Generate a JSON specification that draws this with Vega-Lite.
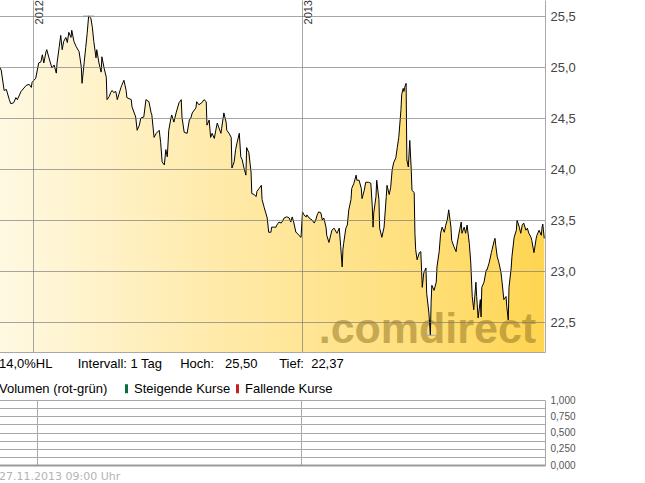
{
  "$schema": "https://vega.github.io/schema/vega-lite/v6.json",
  "padding": {"left": -3, "top": 0, "right": 0, "bottom": 0},
  "background": "white",
  "spacing": 48,
  "bounds": "flush",
  "config": {"view": {"stroke": null}, "font": "Liberation Sans"},
  "resolve": {"scale": {"x": "independent", "y": "independent", "color": "independent"}, "legend": {"color": "independent"}},
  "datasets": {
    "kurse": [
      {"date":"2011-11-16","kurs":25.01},{"date":"2011-11-19","kurs":24.97},{"date":"2011-11-23","kurs":24.77},{"date":"2011-11-26","kurs":24.78},
      {"date":"2011-11-30","kurs":24.68},{"date":"2011-12-02","kurs":24.64},{"date":"2011-12-06","kurs":24.65},{"date":"2011-12-09","kurs":24.70},
      {"date":"2011-12-11","kurs":24.68},{"date":"2011-12-16","kurs":24.76},{"date":"2011-12-23","kurs":24.82},{"date":"2011-12-27","kurs":24.83},
      {"date":"2011-12-30","kurs":24.80},{"date":"2011-12-31","kurs":24.85},{"date":"2012-01-05","kurs":24.89},{"date":"2012-01-09","kurs":25.04},
      {"date":"2012-01-12","kurs":25.05},{"date":"2012-01-14","kurs":25.12},{"date":"2012-01-16","kurs":25.04},{"date":"2012-01-19","kurs":25.15},
      {"date":"2012-01-20","kurs":25.17},{"date":"2012-01-23","kurs":25.09},{"date":"2012-01-27","kurs":24.99},{"date":"2012-01-30","kurs":25.02},
      {"date":"2012-02-02","kurs":24.94},{"date":"2012-02-03","kurs":25.04},{"date":"2012-02-06","kurs":25.20},{"date":"2012-02-08","kurs":25.31},
      {"date":"2012-02-10","kurs":25.17},{"date":"2012-02-12","kurs":25.25},{"date":"2012-02-15","kurs":25.29},{"date":"2012-02-17","kurs":25.24},
      {"date":"2012-02-19","kurs":25.34},{"date":"2012-02-22","kurs":25.29},{"date":"2012-02-23","kurs":25.36},{"date":"2012-02-26","kurs":25.25},
      {"date":"2012-02-29","kurs":25.20},{"date":"2012-03-04","kurs":25.15},{"date":"2012-03-07","kurs":25.00},{"date":"2012-03-08","kurs":24.84},
      {"date":"2012-03-11","kurs":25.05},{"date":"2012-03-13","kurs":25.19},{"date":"2012-03-15","kurs":25.33},{"date":"2012-03-17","kurs":25.50},
      {"date":"2012-03-20","kurs":25.48},{"date":"2012-03-22","kurs":25.39},{"date":"2012-03-24","kurs":25.25},{"date":"2012-03-27","kurs":25.09},
      {"date":"2012-03-28","kurs":25.17},{"date":"2012-03-31","kurs":25.04},{"date":"2012-04-03","kurs":24.95},{"date":"2012-04-04","kurs":25.10},
      {"date":"2012-04-07","kurs":24.99},{"date":"2012-04-10","kurs":24.90},{"date":"2012-04-11","kurs":24.68},{"date":"2012-04-14","kurs":24.71},
      {"date":"2012-04-16","kurs":24.75},{"date":"2012-04-18","kurs":24.77},{"date":"2012-04-20","kurs":24.75},{"date":"2012-04-23","kurs":24.76},
      {"date":"2012-04-25","kurs":24.68},{"date":"2012-04-27","kurs":24.73},{"date":"2012-04-30","kurs":24.80},{"date":"2012-05-01","kurs":24.82},
      {"date":"2012-05-04","kurs":24.87},{"date":"2012-05-07","kurs":24.77},{"date":"2012-05-08","kurs":24.70},{"date":"2012-05-14","kurs":24.68},
      {"date":"2012-05-15","kurs":24.61},{"date":"2012-05-20","kurs":24.51},{"date":"2012-05-22","kurs":24.38},{"date":"2012-05-25","kurs":24.43},
      {"date":"2012-05-27","kurs":24.50},{"date":"2012-05-31","kurs":24.51},{"date":"2012-06-03","kurs":24.68},{"date":"2012-06-07","kurs":24.66},
      {"date":"2012-06-10","kurs":24.55},{"date":"2012-06-11","kurs":24.53},{"date":"2012-06-14","kurs":24.31},{"date":"2012-06-17","kurs":24.35},
      {"date":"2012-06-21","kurs":24.38},{"date":"2012-06-23","kurs":24.26},{"date":"2012-06-25","kurs":24.07},{"date":"2012-06-28","kurs":24.04},
      {"date":"2012-06-30","kurs":24.19},{"date":"2012-07-02","kurs":24.12},{"date":"2012-07-04","kurs":24.38},{"date":"2012-07-07","kurs":24.50},
      {"date":"2012-07-08","kurs":24.53},{"date":"2012-07-11","kurs":24.46},{"date":"2012-07-14","kurs":24.55},{"date":"2012-07-18","kurs":24.65},
      {"date":"2012-07-21","kurs":24.68},{"date":"2012-07-22","kurs":24.51},{"date":"2012-07-25","kurs":24.36},{"date":"2012-07-29","kurs":24.35},
      {"date":"2012-08-01","kurs":24.48},{"date":"2012-08-03","kurs":24.50},{"date":"2012-08-05","kurs":24.55},{"date":"2012-08-10","kurs":24.60},
      {"date":"2012-08-11","kurs":24.66},{"date":"2012-08-14","kurs":24.63},{"date":"2012-08-18","kurs":24.65},{"date":"2012-08-21","kurs":24.68},
      {"date":"2012-08-24","kurs":24.66},{"date":"2012-08-25","kurs":24.43},{"date":"2012-08-28","kurs":24.48},{"date":"2012-08-30","kurs":24.31},
      {"date":"2012-09-01","kurs":24.35},{"date":"2012-09-04","kurs":24.30},{"date":"2012-09-06","kurs":24.38},{"date":"2012-09-08","kurs":24.45},
      {"date":"2012-09-10","kurs":24.41},{"date":"2012-09-13","kurs":24.35},{"date":"2012-09-14","kurs":24.40},{"date":"2012-09-17","kurs":24.55},
      {"date":"2012-09-20","kurs":24.46},{"date":"2012-09-21","kurs":24.38},{"date":"2012-09-24","kurs":24.35},{"date":"2012-09-27","kurs":24.31},
      {"date":"2012-09-28","kurs":24.01},{"date":"2012-10-01","kurs":24.07},{"date":"2012-10-03","kurs":24.19},{"date":"2012-10-05","kurs":24.26},
      {"date":"2012-10-08","kurs":24.35},{"date":"2012-10-10","kurs":24.12},{"date":"2012-10-12","kurs":24.09},{"date":"2012-10-14","kurs":24.02},
      {"date":"2012-10-17","kurs":23.94},{"date":"2012-10-18","kurs":24.21},{"date":"2012-10-21","kurs":24.16},{"date":"2012-10-24","kurs":23.97},
      {"date":"2012-10-25","kurs":23.76},{"date":"2012-10-28","kurs":23.75},{"date":"2012-10-31","kurs":23.73},{"date":"2012-11-01","kurs":23.78},
      {"date":"2012-11-04","kurs":23.81},{"date":"2012-11-07","kurs":23.84},{"date":"2012-11-08","kurs":23.70},{"date":"2012-11-11","kurs":23.62},
      {"date":"2012-11-13","kurs":23.57},{"date":"2012-11-15","kurs":23.52},{"date":"2012-11-17","kurs":23.38},{"date":"2012-11-20","kurs":23.38},
      {"date":"2012-11-21","kurs":23.43},{"date":"2012-11-24","kurs":23.43},{"date":"2012-11-27","kurs":23.43},{"date":"2012-11-28","kurs":23.45},
      {"date":"2012-12-01","kurs":23.48},{"date":"2012-12-04","kurs":23.47},{"date":"2012-12-05","kurs":23.48},{"date":"2012-12-08","kurs":23.52},
      {"date":"2012-12-11","kurs":23.53},{"date":"2012-12-12","kurs":23.53},{"date":"2012-12-15","kurs":23.52},{"date":"2012-12-17","kurs":23.48},
      {"date":"2012-12-19","kurs":23.53},{"date":"2012-12-21","kurs":23.48},{"date":"2012-12-24","kurs":23.38},{"date":"2012-12-26","kurs":23.37},
      {"date":"2012-12-28","kurs":23.35},{"date":"2012-12-31","kurs":23.33},{"date":"2013-01-02","kurs":23.58},{"date":"2013-01-04","kurs":23.55},
      {"date":"2013-01-07","kurs":23.53},{"date":"2013-01-08","kurs":23.55},{"date":"2013-01-11","kurs":23.52},{"date":"2013-01-15","kurs":23.50},
      {"date":"2013-01-18","kurs":23.47},{"date":"2013-01-20","kurs":23.50},{"date":"2013-01-22","kurs":23.55},{"date":"2013-01-24","kurs":23.58},
      {"date":"2013-01-27","kurs":23.57},{"date":"2013-01-29","kurs":23.50},{"date":"2013-01-31","kurs":23.52},{"date":"2013-02-03","kurs":23.43},
      {"date":"2013-02-04","kurs":23.35},{"date":"2013-02-07","kurs":23.28},{"date":"2013-02-10","kurs":23.37},{"date":"2013-02-11","kurs":23.40},
      {"date":"2013-02-14","kurs":23.42},{"date":"2013-02-17","kurs":23.38},{"date":"2013-02-18","kurs":23.37},{"date":"2013-02-21","kurs":23.42},
      {"date":"2013-02-23","kurs":23.24},{"date":"2013-02-25","kurs":23.04},{"date":"2013-02-26","kurs":23.21},{"date":"2013-02-27","kurs":23.27},
      {"date":"2013-03-02","kurs":23.42},{"date":"2013-03-04","kurs":23.45},{"date":"2013-03-06","kurs":23.60},{"date":"2013-03-09","kurs":23.70},
      {"date":"2013-03-10","kurs":23.81},{"date":"2013-03-13","kurs":23.86},{"date":"2013-03-16","kurs":23.94},{"date":"2013-03-17","kurs":23.89},
      {"date":"2013-03-20","kurs":23.89},{"date":"2013-03-23","kurs":23.81},{"date":"2013-03-24","kurs":23.71},{"date":"2013-03-27","kurs":23.79},
      {"date":"2013-03-29","kurs":23.87},{"date":"2013-04-02","kurs":23.87},{"date":"2013-04-05","kurs":23.86},{"date":"2013-04-07","kurs":23.63},
      {"date":"2013-04-08","kurs":23.43},{"date":"2013-04-09","kurs":23.57},{"date":"2013-04-12","kurs":23.73},{"date":"2013-04-13","kurs":23.89},
      {"date":"2013-04-16","kurs":23.70},{"date":"2013-04-17","kurs":23.42},{"date":"2013-04-20","kurs":23.33},{"date":"2013-04-23","kurs":23.43},
      {"date":"2013-04-26","kurs":23.73},{"date":"2013-04-27","kurs":23.84},{"date":"2013-04-30","kurs":23.75},{"date":"2013-05-02","kurs":23.82},
      {"date":"2013-05-04","kurs":23.99},{"date":"2013-05-06","kurs":24.06},{"date":"2013-05-09","kurs":24.11},{"date":"2013-05-11","kurs":24.21},
      {"date":"2013-05-13","kurs":24.31},{"date":"2013-05-16","kurs":24.58},{"date":"2013-05-17","kurs":24.73},{"date":"2013-05-19","kurs":24.79},
      {"date":"2013-05-20","kurs":24.76},{"date":"2013-05-21","kurs":24.80},{"date":"2013-05-23","kurs":24.84},{"date":"2013-05-24","kurs":24.09},
      {"date":"2013-05-26","kurs":24.02},{"date":"2013-05-28","kurs":24.28},{"date":"2013-05-30","kurs":23.99},{"date":"2013-05-31","kurs":23.79},
      {"date":"2013-06-03","kurs":23.77},{"date":"2013-06-04","kurs":23.37},{"date":"2013-06-05","kurs":23.21},{"date":"2013-06-07","kurs":23.11},
      {"date":"2013-06-10","kurs":23.18},{"date":"2013-06-12","kurs":23.19},{"date":"2013-06-14","kurs":22.84},{"date":"2013-06-16","kurs":22.98},
      {"date":"2013-06-19","kurs":23.03},{"date":"2013-06-20","kurs":22.78},{"date":"2013-06-23","kurs":22.59},{"date":"2013-06-25","kurs":22.37},
      {"date":"2013-06-26","kurs":22.69},{"date":"2013-06-27","kurs":22.86},{"date":"2013-06-30","kurs":22.81},{"date":"2013-07-03","kurs":22.89},
      {"date":"2013-07-04","kurs":23.04},{"date":"2013-07-07","kurs":23.19},{"date":"2013-07-09","kurs":23.37},{"date":"2013-07-11","kurs":23.43},
      {"date":"2013-07-14","kurs":23.38},{"date":"2013-07-16","kurs":23.45},{"date":"2013-07-18","kurs":23.50},{"date":"2013-07-20","kurs":23.60},
      {"date":"2013-07-23","kurs":23.43},{"date":"2013-07-24","kurs":23.30},{"date":"2013-07-27","kurs":23.24},{"date":"2013-07-30","kurs":23.19},
      {"date":"2013-07-31","kurs":23.25},{"date":"2013-08-03","kurs":23.37},{"date":"2013-08-06","kurs":23.48},{"date":"2013-08-07","kurs":23.37},
      {"date":"2013-08-10","kurs":23.43},{"date":"2013-08-12","kurs":23.37},{"date":"2013-08-14","kurs":23.45},{"date":"2013-08-17","kurs":23.27},
      {"date":"2013-08-19","kurs":23.08},{"date":"2013-08-21","kurs":22.75},{"date":"2013-08-23","kurs":22.62},{"date":"2013-08-26","kurs":22.89},
      {"date":"2013-08-27","kurs":22.75},{"date":"2013-08-29","kurs":22.54},{"date":"2013-09-01","kurs":22.72},{"date":"2013-09-02","kurs":22.55},
      {"date":"2013-09-03","kurs":22.84},{"date":"2013-09-06","kurs":22.89},{"date":"2013-09-09","kurs":23.01},{"date":"2013-09-10","kurs":23.01},
      {"date":"2013-09-13","kurs":23.08},{"date":"2013-09-16","kurs":23.18},{"date":"2013-09-17","kurs":23.21},{"date":"2013-09-20","kurs":23.30},
      {"date":"2013-09-21","kurs":23.32},{"date":"2013-09-22","kurs":23.25},{"date":"2013-09-24","kurs":23.14},{"date":"2013-09-26","kurs":23.09},
      {"date":"2013-09-29","kurs":22.99},{"date":"2013-09-30","kurs":22.93},{"date":"2013-10-03","kurs":22.72},{"date":"2013-10-06","kurs":22.75},
      {"date":"2013-10-07","kurs":22.65},{"date":"2013-10-09","kurs":22.52},{"date":"2013-10-10","kurs":22.84},{"date":"2013-10-13","kurs":23.03},
      {"date":"2013-10-14","kurs":23.14},{"date":"2013-10-17","kurs":23.33},{"date":"2013-10-20","kurs":23.40},{"date":"2013-10-21","kurs":23.50},
      {"date":"2013-10-24","kurs":23.43},{"date":"2013-10-26","kurs":23.37},{"date":"2013-10-28","kurs":23.45},{"date":"2013-10-30","kurs":23.47},
      {"date":"2013-11-02","kurs":23.40},{"date":"2013-11-04","kurs":23.42},{"date":"2013-11-06","kurs":23.37},{"date":"2013-11-09","kurs":23.33},
      {"date":"2013-11-10","kurs":23.30},{"date":"2013-11-13","kurs":23.18},{"date":"2013-11-16","kurs":23.32},{"date":"2013-11-17","kurs":23.35},
      {"date":"2013-11-20","kurs":23.40},{"date":"2013-11-23","kurs":23.35},{"date":"2013-11-24","kurs":23.43},{"date":"2013-11-25","kurs":23.46},
      {"date":"2013-11-27","kurs":23.32}
    ],
    "jahre": [{"date":"2012-01-01","label":"2012"},{"date":"2013-01-01","label":"2013"}],
    "extreme": [{"date":"2012-03-17","kurs":25.50},{"date":"2013-06-25","kurs":22.37}],
    "marke": [{"text":".comdirect"}],
    "volumen": [{"date":"2013-11-26","richtung":"Steigende Kurse","volumen":0},{"date":"2013-11-27","richtung":"Fallende Kurse","volumen":0}]
  },
  "vconcat": [
    {
      "width": 546,
      "height": 352,
      "title": {
        "text": "14,0%HL\u00a0\u00a0\u00a0\u00a0\u00a0\u00a0\u00a0Intervall: 1 Tag\u00a0\u00a0\u00a0\u00a0\u00a0Hoch:\u00a0\u00a0\u00a025,50\u00a0\u00a0\u00a0\u00a0\u00a0\u00a0Tief:\u00a0\u00a022,37",
        "orient": "bottom", "anchor": "start", "frame": "group", "offset": 6,
        "font": "Liberation Sans", "fontSize": 13, "fontWeight": "normal", "color": "#000000"
      },
      "layer": [
        {
          "data": {"name": "kurse"},
          "mark": {
            "type": "area",
            "color": {
              "gradient": "linear", "x1": 0, "x2": 1, "y1": 0, "y2": 0,
              "stops": [
                {"offset": 0, "color": "#fff9e3"},
                {"offset": 0.4, "color": "#ffeaaa"},
                {"offset": 0.75, "color": "#ffe07e"},
                {"offset": 1, "color": "#ffd550"}
              ]
            }
          },
          "encoding": {
            "x": {
              "field": "date", "type": "temporal",
              "scale": {"domain": [{"year": 2011, "month": 11, "date": 16, "utc": true}, {"year": 2013, "month": 11, "date": 28, "utc": true}]},
              "axis": {
                "orient": "bottom", "title": null, "labels": false, "ticks": false, "tickSize": 0,
                "values": [{"year": 2012, "month": 1, "date": 1, "utc": true}, {"year": 2013, "month": 1, "date": 1, "utc": true}],
                "grid": true, "gridColor": "#777777", "gridOpacity": 0.65, "domainColor": "#a8a8a8", "zindex": 1
              }
            },
            "y": {
              "field": "kurs", "type": "quantitative",
              "scale": {"domain": [22.206, 25.657], "zero": false, "nice": false},
              "axis": {
                "orient": "right", "title": null, "ticks": false, "tickSize": 0, "labelPadding": 5,
                "values": [22.5, 23, 23.5, 24, 24.5, 25, 25.5],
                "labelExpr": "replace(format(datum.value, '.1f'), '.', ',')",
                "labelFont": "Liberation Sans", "labelFontSize": 13, "labelColor": "#444444",
                "grid": true, "gridColor": "#777777", "gridOpacity": 0.65, "domainColor": "#a8a8a8", "zindex": 1
              }
            },
            "y2": {"datum": 22.206}
          }
        },
        {
          "data": {"name": "marke"},
          "mark": {"type": "text", "align": "right", "baseline": "alphabetic", "font": "Liberation Sans", "fontSize": 43, "fontWeight": "bold", "fill": "#907020", "opacity": 0.5},
          "encoding": {
            "x": {"datum": {"year": 2013, "month": 11, "date": 16, "utc": true}, "type": "temporal"},
            "y": {"datum": 22.294, "type": "quantitative"},
            "text": {"field": "text", "type": "nominal"}
          }
        },
        {
          "data": {"name": "kurse"},
          "mark": {"type": "line", "color": "#000000", "strokeWidth": 1},
          "encoding": {
            "x": {"field": "date", "type": "temporal"},
            "y": {"field": "kurs", "type": "quantitative"}
          }
        },
        {
          "data": {"name": "extreme"},
          "mark": {"type": "tick", "orient": "horizontal", "size": 11, "thickness": 1, "color": "#9aa6bf", "opacity": 1},
          "encoding": {
            "x": {"field": "date", "type": "temporal"},
            "y": {"field": "kurs", "type": "quantitative"}
          }
        },
        {
          "data": {"name": "jahre"},
          "mark": {"type": "text", "angle": 270, "align": "right", "baseline": "top", "dy": 1.5, "font": "Liberation Sans", "fontSize": 11, "fill": "#333333"},
          "encoding": {
            "x": {"field": "date", "type": "temporal"},
            "y": {"datum": 25.657, "type": "quantitative"},
            "text": {"field": "label", "type": "nominal"}
          }
        }
      ]
    },
    {
      "width": 546,
      "height": 65,
      "title": {
        "text": "27.11.2013 09:00 Uhr",
        "orient": "bottom", "anchor": "start", "frame": "group", "offset": 1,
        "font": "DejaVu Sans", "fontSize": 11, "fontWeight": "normal", "color": "#b4b4b4"
      },
      "data": {"name": "volumen"},
      "mark": {"type": "bar"},
      "encoding": {
        "x": {
          "field": "date", "type": "temporal",
          "scale": {"domain": [{"year": 2011, "month": 11, "date": 16, "utc": true}, {"year": 2013, "month": 11, "date": 28, "utc": true}]},
          "axis": {
            "orient": "bottom", "title": null, "labels": false, "ticks": false, "tickSize": 0,
            "values": [{"year": 2012, "month": 1, "date": 1, "utc": true}, {"year": 2013, "month": 1, "date": 1, "utc": true}],
            "grid": true, "gridColor": "#a8a8a8", "domainColor": "#999999", "domainWidth": 2
          }
        },
        "y": {
          "field": "volumen", "type": "quantitative",
          "scale": {"domain": [0, 1], "nice": false},
          "axis": {
            "orient": "right", "title": null, "ticks": false, "tickSize": 0, "labelPadding": 5,
            "values": [0, 0.125, 0.25, 0.375, 0.5, 0.625, 0.75, 0.875, 1],
            "labelExpr": "(datum.value * 8) % 2 == 0 ? replace(format(datum.value, '.3f'), '.', ',') : ''",
            "labelFont": "Liberation Sans", "labelFontSize": 10, "labelColor": "#555555",
            "grid": true, "gridColor": "#a8a8a8", "domainColor": "#a8a8a8"
          }
        },
        "color": {
          "field": "richtung", "type": "nominal",
          "scale": {"domain": ["Steigende Kurse", "Fallende Kurse"], "range": ["#0b6e3f", "#c81e1e"]},
          "legend": {
            "orient": "none", "legendX": 0, "legendY": -18, "direction": "horizontal", "padding": 0,
            "title": "Volumen (rot-grün)", "titleOrient": "left", "titlePadding": 12,
            "titleFont": "Liberation Sans", "titleFontSize": 13, "titleFontWeight": "normal", "titleColor": "#000000",
            "labelFont": "Liberation Sans", "labelFontSize": 13, "labelColor": "#000000", "labelOffset": 1,
            "symbolType": "M-0.33,-1H0.33V1H-0.33Z", "symbolSize": 81, "symbolStrokeWidth": 0, "symbolOpacity": 1,
            "columnPadding": -3
          }
        }
      }
    }
  ]
}
